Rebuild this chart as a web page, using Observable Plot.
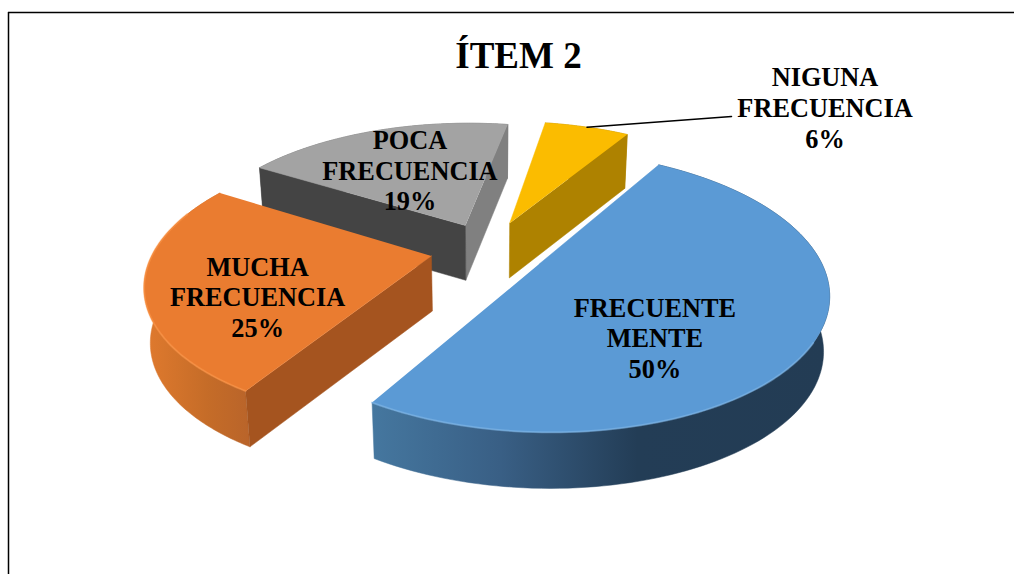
<!DOCTYPE html>
<html><head><meta charset="utf-8">
<script src="https://cdn.jsdelivr.net/npm/d3@7"></script>
<script src="https://cdn.jsdelivr.net/npm/@observablehq/plot@0.6"></script>
<style>html,body{margin:0;padding:0;background:#fff}svg{display:block}</style>
</head><body><div id="chart"></div>
<script>
const title = "ÍTEM 2";
const categories = ["FRECUENTE\nMENTE", "MUCHA\nFRECUENCIA", "POCA\nFRECUENCIA", "NIGUNA\nFRECUENCIA"];
const values = [50, 25, 19, 6];
const topColors = ["#5b9ad5", "#ea7c30", "#a3a3a3", "#fbbc00"];
const rimColors = ["url(#rimBlue)", "url(#rimOrange)", "#6e6e6e", "#ae8200"];
// null: that cut face looks away from the viewer and is not drawn
const sideStartColors = [null, "#a5541f", "#444444", null];
const sideEndColors = [null, null, "#808080", "#ae8200"];
const bevelColors = ["#86bbec", "#ff9a4c", "#b8b8b8", "#ffcf40"];
const drawOrder = [2, 3, 1, 0];

// 3D-pie camera model
const view = {cx: 488, cy: 249, R: 277, H: 130, D: 55, dD: 1, taper: 0.018, k: 0.19, start: 31.5};
const explode = [0.21, 0.21, 0.21, 0.225];
const labelPlace = [
  {r: 0.5, dx: -14, dy: 36},
  {r: 0.55, dx: -19, dy: 23},
  {r: 0.55, dx: -2, dy: 0},
  {r: 1, dx: 238, dy: -20}
];
const rad = d => d * Math.PI / 180;
function proj(X, Y, Z = 0) {
  const s = 1 / (1 - view.k * Y);
  return {
    x: view.cx + view.R * X * s * (1 - view.taper * Z),
    y: view.cy + view.H * Y * s + (view.D + view.dD * Y) * Z
  };
}
const total = d3.sum(values);
let acc = view.start;
const slices = values.map((v, i) => {
  const a0 = acc, a1 = acc + v / total * 360;
  acc = a1;
  const mid = (a0 + a1) / 2;
  const ox = explode[i] * Math.sin(rad(mid)), oy = -explode[i] * Math.cos(rad(mid));
  const at = (a, r = 1, z = 0) => proj(ox + r * Math.sin(rad(a)), oy - r * Math.cos(rad(a)), z);
  const arc = [];
  for (let a = a0; a <= a1 + 1e-6; a += (a1 - a0) / 120) arc.push(a);
  return {i, a0, a1, mid, at, arc};
});

const marks = [];
marks.push(() => {
  const defs = d3.create("svg:defs");
  const grad = (id, stops) => {
    const g = defs.append("linearGradient").attr("id", id).attr("x1", 0).attr("x2", 1).attr("y1", 0).attr("y2", 0);
    stops.forEach(([o, c]) => g.append("stop").attr("offset", o).attr("stop-color", c));
  };
  grad("rimBlue", [[0, "#45779f"], [0.28, "#395f85"], [0.58, "#233d56"], [1, "#233c54"]]);
  grad("rimOrange", [[0, "#e07a2e"], [0.6, "#c56c28"], [1, "#b9642a"]]);
  return defs.node();
});
const poly = (pts, fill) => Plot.line(pts, {x: "x", y: "y", fill, stroke: fill, strokeWidth: 0.5, curve: "linear"});

// frame
marks.push(Plot.ruleX([8], {y1: 12, y2: 574, stroke: "#000", strokeWidth: 1.5}));
marks.push(Plot.ruleY([12], {x1: 8, x2: 1014, stroke: "#000", strokeWidth: 1.5}));

for (const i of drawOrder) {
  const s = slices[i];
  const v0 = s.at(0, 0, 0), v1 = s.at(0, 0, 1);
  const e0 = s.at(s.a0), e0b = s.at(s.a0, 1, 1), e1 = s.at(s.a1), e1b = s.at(s.a1, 1, 1);
  const top = s.arc.map(a => s.at(a));
  const bot = s.arc.map(a => s.at(a, 1, 1));
  marks.push(poly([...top, ...bot.slice().reverse()], rimColors[i]));
  if (sideEndColors[i]) marks.push(poly([v0, v1, e1b, e1], sideEndColors[i]));
  if (sideStartColors[i]) marks.push(poly([v0, v1, e0b, e0], sideStartColors[i]));
  marks.push(poly([v0, ...top], topColors[i]));
  if (i < 2) {
    const front = s.arc.filter(a => a > 120 && a < 290).map(a => s.at(a));
    marks.push(Plot.line(front, {x: "x", y: "y", stroke: bevelColors[i], strokeWidth: 2, strokeOpacity: 0.5, curve: "linear"}));
  }
}

// leader line for the small slice
const yellow = slices[3];
const leaderStart = yellow.at(yellow.mid);
marks.push(Plot.line([leaderStart, {x: 731, y: 116}], {x: "x", y: "y", stroke: "#000", strokeWidth: 1.5}));

// labels
const font = "'Liberation Serif','Times New Roman',serif";
slices.forEach((s, i) => {
  const p = s.at(s.mid, labelPlace[i].r);
  marks.push(Plot.text([`${categories[i]}\n${values[i]}%`], {
    x: () => p.x, y: () => p.y, text: d => d, dx: labelPlace[i].dx, dy: labelPlace[i].dy,
    fontFamily: font, fontWeight: "bold", fontSize: 26.3, lineHeight: 1.165, fill: "#000", textAnchor: "middle"
  }));
});
marks.push(Plot.text([title], {x: () => 518, y: () => 56, text: d => d, fontFamily: font, fontWeight: "bold", fontSize: 37, fill: "#000"}));

const chart = Plot.plot({
  width: 1014, height: 574, margin: 0,
  x: {domain: [0, 1014], range: [0, 1014], axis: null},
  y: {domain: [0, 574], range: [0, 574], axis: null},
  style: {background: "#fff"},
  marks
});
document.getElementById("chart").append(chart);
</script></body></html>
